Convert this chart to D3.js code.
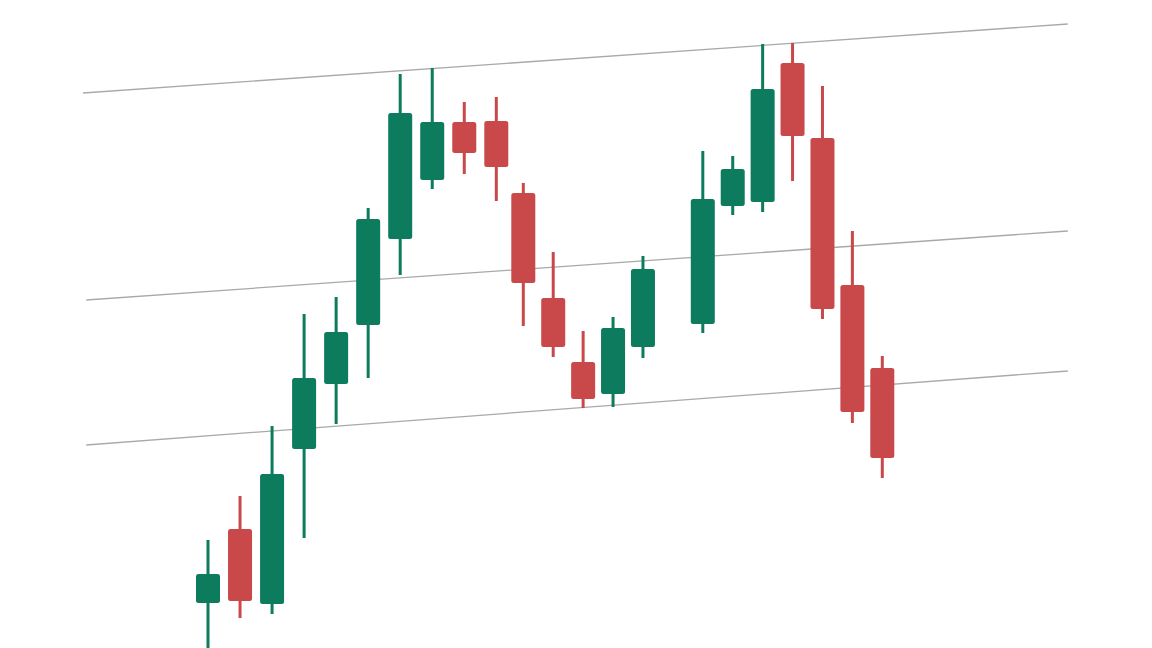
<!DOCTYPE html>
<meta charset="utf-8">
<script src="https://d3js.org/d3.v7.min.js"></script>
<style>
  body { margin: 0; background: #fff; }
</style>
<div id="chart"></div>
<script>
// candle data (slot 15 is empty, a gap in the session)
var slots = [0, 1, 2, 3, 4, 5, 6, 7, 8, 9, 10, 11, 12, 13, 14, 16, 17, 18, 19, 20, 21, 22];
var opens  = [104.5, 111.9, 104.4, 119.9, 126.4, 132.3, 140.9, 146.8, 152.6, 152.7, 145.5, 135.0, 128.6, 125.4, 130.1, 132.4, 144.2, 144.6, 158.5, 151.0, 136.3, 128.0];
var highs  = [110.8, 115.2, 122.2, 133.4, 135.1, 144.0, 157.4, 158.0, 154.6, 155.1, 146.5, 139.6, 131.7, 133.1, 139.2, 149.7, 149.2, 160.4, 160.5, 156.2, 141.7, 129.2];
var lows   = [ 99.0, 103.0, 103.4, 111.0, 122.4, 127.0, 137.3, 145.9, 147.4, 144.7, 132.2, 129.1, 124.0, 124.1, 129.0, 131.5, 143.3, 143.6, 146.7, 132.9, 122.5, 117.0];
var closes = [107.4, 104.7, 117.4, 127.0, 131.6, 142.9, 153.5, 152.6, 149.5, 148.1, 136.5, 130.1, 124.9, 132.0, 137.9, 144.9, 147.9, 155.9, 151.2, 133.9, 123.6, 119.0];

// channel lines: [start slot, start price, end slot, end price]
var channels = [
  [-3.9, 155.5, 28.2, 162.4],
  [-3.8, 134.8, 28.2, 141.7],
  [-3.8, 120.3, 28.2, 127.7]
];

var width = 1152, height = 648;
var up = "#0d7b5e", down = "#c9484a";

var svg = d3.select("#chart")
  .append("svg")
    .attr("width", width)
    .attr("height", height);

svg.append("rect")
  .attr("width", width)
  .attr("height", height)
  .attr("fill", "#fff");

// slot spacing is a little wider on the left of the picture
var x = d3.scaleLinear()
  .domain([0, 9, 10, 22])
  .range([208, 496.3, 523.3, 882.3]);

var y = d3.scaleLinear()
  .domain([100, 164.8])
  .range([648, 0]);

var data = slots.map(function(s, i) {
  return { slot: s, open: opens[i], high: highs[i], low: lows[i], close: closes[i] };
});

// channel lines
svg.selectAll("line.channel")
  .data(channels)
  .enter()
  .append("line")
    .attr("class", "channel")
    .attr("x1", function(d) { return x(d[0]); })
    .attr("y1", function(d) { return y(d[1]); })
    .attr("x2", function(d) { return x(d[2]); })
    .attr("y2", function(d) { return y(d[3]); })
    .attr("stroke", "#a9a9a9")
    .attr("stroke-width", 1.3);

var candle = svg.selectAll("g.candle")
  .data(data)
  .enter()
  .append("g")
    .attr("class", "candle");

// wicks
candle.append("line")
  .attr("x1", function(d) { return x(d.slot); })
  .attr("x2", function(d) { return x(d.slot); })
  .attr("y1", function(d) { return y(d.high); })
  .attr("y2", function(d) { return y(d.low); })
  .attr("stroke", function(d) { return d.close >= d.open ? up : down; })
  .attr("stroke-width", 3);

// bodies
var bodyW = 24;
candle.append("rect")
  .attr("x", function(d) { return x(d.slot) - bodyW / 2; })
  .attr("y", function(d) { return y(Math.max(d.open, d.close)); })
  .attr("width", bodyW)
  .attr("height", function(d) { return Math.abs(y(d.open) - y(d.close)); })
  .attr("rx", 2.5)
  .attr("fill", function(d) { return d.close >= d.open ? up : down; });
</script>
